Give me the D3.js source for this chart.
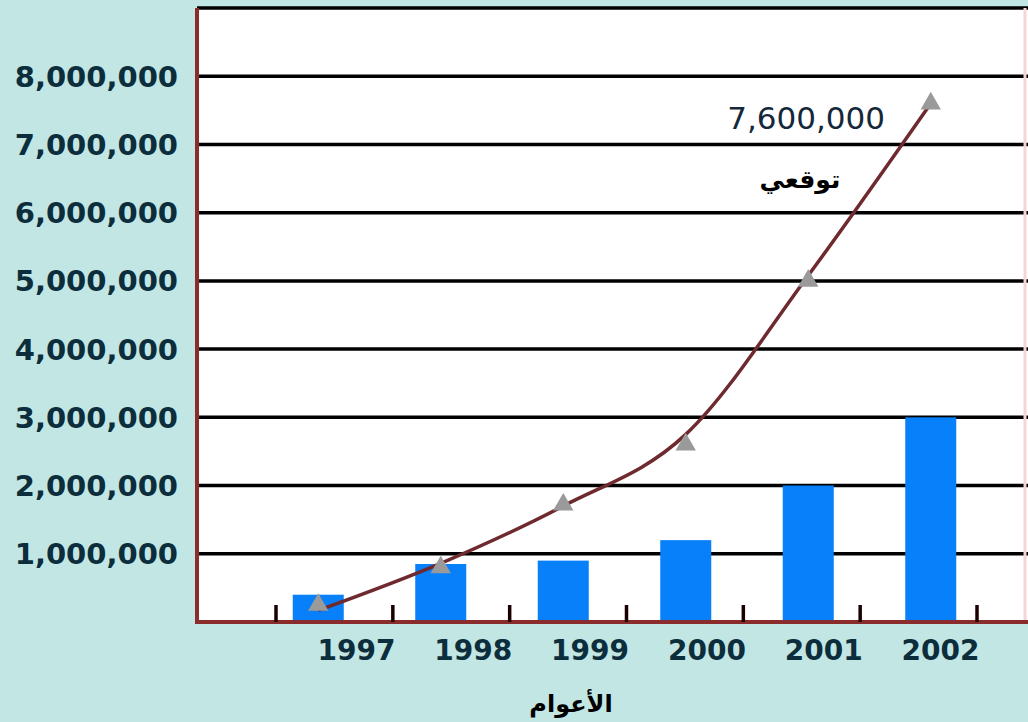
<!DOCTYPE html>
<html>
<head>
<meta charset="utf-8">
<script src="https://cdn.jsdelivr.net/npm/d3@7"></script>
<style>
  body { margin: 0; background: #c2e6e3; }
  text { font-family: "DejaVu Sans", sans-serif; }
</style>
</head>
<body>
<svg id="chart" width="1028" height="722"></svg>
<script>
// chart data
var years = ["1997", "1998", "1999", "2000", "2001", "2002"];
var users = [400000, 850000, 900000, 1200000, 2000000, 3000000];
// fitted trend curve and the forecast markers that sit near it
var trendCurve = [170000, 860000, 1700000, 2750000, 5080000, 7600000];
var forecast = [250000, 800000, 1720000, 2600000, 5000000, 7600000];
var yTicks = [1000000, 2000000, 3000000, 4000000, 5000000, 6000000, 7000000, 8000000, 9000000];
var trendLabel = "7,600,000";
var trendName = "توقعي";
var xTitle = "الأعوام";

var svg = d3.select("#chart"),
  plotL = 197, plotR = 1028, plotT = 8, plotB = 622;

// bars / points
var x = d3.scaleBand()
  .domain(years)
  .range([265, 1000]);

// axis ticks and labels sit slightly apart from the bars in the original
var xt = d3.scaleLinear()
  .domain([0, years.length])
  .range([276, 977]);

var y = d3.scaleLinear()
  .domain([0, 9000000])
  .range([plotB, plotT]);

function cx(i) { return x(years[i]) + x.bandwidth() / 2 - 8; }

// plot background
svg.append("rect")
  .attr("x", plotL).attr("y", plotT)
  .attr("width", plotR - plotL).attr("height", plotB - plotT)
  .attr("fill", "#ffffff");

// gridlines
svg.append("g")
  .selectAll("line")
  .data(yTicks)
  .enter().append("line")
  .attr("x1", plotL).attr("x2", plotR)
  .attr("y1", function(d) { return y(d); })
  .attr("y2", function(d) { return y(d); })
  .attr("stroke", "#000")
  .attr("stroke-width", 3.5);

// y labels
svg.append("g")
  .selectAll("text")
  .data(yTicks.filter(function(d) { return d < 9000000; }))
  .enter().append("text")
  .attr("x", 178)
  .attr("y", function(d) { return y(d); })
  .attr("dy", "0.36em")
  .attr("text-anchor", "end")
  .attr("font-size", 29)
  .attr("font-weight", "bold")
  .attr("fill", "#0c2d3c")
  .text(d3.format(","));

// bars
var barW = 51;
svg.append("g")
  .selectAll("rect")
  .data(users)
  .enter().append("rect")
  .attr("x", function(d, i) { return cx(i) - barW / 2; })
  .attr("y", function(d) { return y(d); })
  .attr("width", barW)
  .attr("height", function(d) { return plotB - y(d); })
  .attr("fill", "#0780fa");

// trend line
var line = d3.line()
  .x(function(d, i) { return cx(i); })
  .y(function(d) { return y(d); })
  .curve(d3.curveMonotoneX);

svg.append("path")
  .datum(trendCurve)
  .attr("d", line)
  .attr("fill", "none")
  .attr("stroke", "#6e2a2e")
  .attr("stroke-width", 3.5);

svg.append("g")
  .selectAll("path")
  .data(forecast)
  .enter().append("path")
  .attr("transform", function(d, i) {
    return "translate(" + cx(i) + "," + y(d) + ")";
  })
  .attr("d", d3.symbol().type(d3.symbolTriangle).size(180))
  .attr("fill", "#9a9a9a");

// axes
svg.append("line")
  .attr("x1", plotL).attr("x2", plotL)
  .attr("y1", plotT).attr("y2", plotB + 2)
  .attr("stroke", "#8a2c2c").attr("stroke-width", 4);
svg.append("line")
  .attr("x1", plotR - 3).attr("x2", plotR - 3)
  .attr("y1", plotT).attr("y2", plotB)
  .attr("stroke", "#f4d6d6").attr("stroke-width", 3);
svg.append("line")
  .attr("x1", plotL - 2).attr("x2", plotR)
  .attr("y1", plotB).attr("y2", plotB)
  .attr("stroke", "#8a2c2c").attr("stroke-width", 4);

// x ticks
svg.append("g")
  .selectAll("line")
  .data(d3.range(years.length + 1))
  .enter().append("line")
  .attr("x1", function(d) { return xt(d); })
  .attr("x2", function(d) { return xt(d); })
  .attr("y1", plotB - 17).attr("y2", plotB)
  .attr("stroke", "#1a0000").attr("stroke-width", 3.5);

// x labels
svg.append("g")
  .selectAll("text")
  .data(years)
  .enter().append("text")
  .attr("x", function(d, i) { return xt(i + 0.5) + 22; })
  .attr("y", 660)
  .attr("text-anchor", "middle")
  .attr("font-size", 28)
  .attr("font-weight", "bold")
  .attr("fill", "#0c2d3c")
  .text(function(d) { return d; });

// annotations
svg.append("text")
  .attr("x", 885).attr("y", 129)
  .attr("text-anchor", "end")
  .attr("font-size", 31)
  .attr("fill", "#14283a")
  .text(trendLabel);

svg.append("text")
  .attr("x", 800).attr("y", 188)
  .attr("text-anchor", "middle")
  .attr("font-size", 25)
  .attr("font-weight", "bold")
  .attr("fill", "#000")
  .text(trendName);

svg.append("text")
  .attr("x", 571).attr("y", 712)
  .attr("text-anchor", "middle")
  .attr("font-size", 24)
  .attr("font-weight", "bold")
  .attr("fill", "#000")
  .text(xTitle);
</script>
</body>
</html>
